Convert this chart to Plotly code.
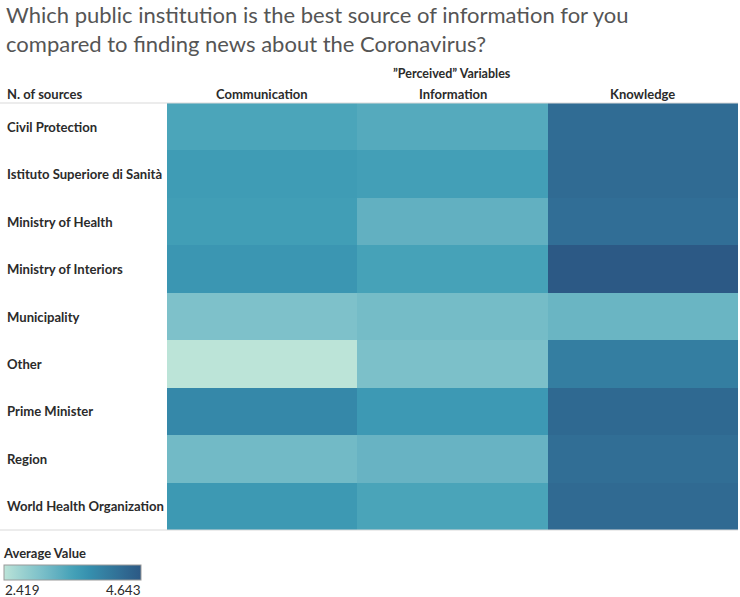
import plotly.graph_objects as go

sources = ["Civil Protection", "Istituto Superiore di Sanità", "Ministry of Health",
           "Ministry of Interiors", "Municipality", "Other", "Prime Minister",
           "Region", "World Health Organization"]
variables = ["Communication", "Information", "Knowledge"]

communication = [3.47, 3.62, 3.59, 3.71, 3.00, 2.419, 3.91, 3.12, 3.67]
information = [3.39, 3.57, 3.27, 3.53, 3.09, 3.02, 3.66, 3.22, 3.49]
knowledge = [4.33, 4.35, 4.30, 4.643, 3.20, 4.06, 4.38, 4.31, 4.37]

vmin, vmax = 2.419, 4.643

blue_teal = ["#bce4d8", "#aedcd5", "#a1d5d2", "#95cecf", "#89c8cc", "#7ec1ca",
             "#72bac6", "#66b2c2", "#59acbe", "#4ba5ba", "#419eb6", "#3b96b2",
             "#358ead", "#3586a7", "#347ea1", "#32779b", "#316f96", "#2f6790",
             "#2d608a", "#2c5985"]
colorscale = [[i / (len(blue_teal) - 1), c] for i, c in enumerate(blue_teal)]

W, H = 740, 597
def px_x(p): return p / W
def px_y(p): return 1 - p / H

z = [[communication[i], information[i], knowledge[i]] for i in range(len(sources))]

FONT = "Lato"
TXT = "#2b2b2b"
fig = go.Figure(go.Heatmap(
    z=z, x=variables, y=sources, colorscale=colorscale, zmin=vmin, zmax=vmax,
    xgap=0, ygap=0,
    colorbar=dict(orientation="h", lenmode="pixels", len=137, thickness=15,
                  x=px_x(4), xanchor="left", y=px_y(565), yanchor="top",
                  xpad=0, ypad=0, outlinecolor="#999999", outlinewidth=1,
                  showticklabels=False, ticks=""),
))

fig.update_layout(
    width=W, height=H, margin=dict(l=0, r=0, t=0, b=0),
    plot_bgcolor="white", paper_bgcolor="white",
    font=dict(family=FONT, color=TXT, size=12),
    xaxis=dict(domain=[px_x(167), px_x(738)], showticklabels=False, showgrid=False,
               zeroline=False, ticks=""),
    yaxis=dict(domain=[px_y(530), px_y(103)], autorange="reversed", showticklabels=False,
               showgrid=False, zeroline=False, ticks=""),
    showlegend=False,
)

ann = []
ann.append(dict(text="Which public institution is the best source of information for you<br>compared to finding news about the Coronavirus?",
                xref="paper", yref="paper", x=px_x(4), y=px_y(-1), xanchor="left", yanchor="top",
                align="left", showarrow=False,
                font=dict(family=FONT, size=22, color="#555555")))
ann.append(dict(text="<b>\u201dPerceived\u201d Variables</b>", xref="paper", yref="paper",
                x=px_x(452), y=px_y(73), xanchor="center", yanchor="middle", showarrow=False,
                font=dict(family=FONT, size=12.5, color=TXT)))
ann.append(dict(text="<b>N. of sources</b>", xref="paper", yref="paper",
                x=px_x(5), y=px_y(94), xanchor="left", yanchor="middle", showarrow=False,
                font=dict(family=FONT, size=13, color=TXT)))
for v in variables:
    ann.append(dict(text="<b>" + v + "</b>", xref="x", yref="paper", x=v, y=px_y(94),
                    xanchor="center", yanchor="middle", showarrow=False,
                    font=dict(family=FONT, size=13, color=TXT)))
for s in sources:
    ann.append(dict(text="<b>" + s + "</b>", xref="paper", yref="y", x=px_x(5), y=s,
                    xanchor="left", yanchor="middle", showarrow=False,
                    font=dict(family=FONT, size=13.1, color=TXT)))
ann.append(dict(text="<b>Average Value</b>", xref="paper", yref="paper", x=px_x(1), y=px_y(553),
                xanchor="left", yanchor="middle", showarrow=False,
                font=dict(family=FONT, size=13, color=TXT)))
ann.append(dict(text=f"{vmin:.3f}", xref="paper", yref="paper", x=px_x(3), y=px_y(590),
                xanchor="left", yanchor="middle", showarrow=False,
                font=dict(family=FONT, size=13.5, color=TXT)))
ann.append(dict(text=f"{vmax:.3f}", xref="paper", yref="paper", x=px_x(143), y=px_y(590),
                xanchor="right", yanchor="middle", showarrow=False,
                font=dict(family=FONT, size=13.5, color=TXT)))
fig.update_layout(annotations=ann)

fig.add_shape(type="line", xref="paper", yref="paper", x0=0, x1=px_x(738),
              y0=px_y(103), y1=px_y(103), line=dict(color="#d9d9d9", width=1))
fig.add_shape(type="line", xref="paper", yref="paper", x0=0, x1=px_x(738),
              y0=px_y(530), y1=px_y(530), line=dict(color="#d9d9d9", width=1))

fig.write_html("out.html", config={"displayModeBar": False},
               post_script="document.body.style.margin='0';document.body.style.overflow='hidden';")
